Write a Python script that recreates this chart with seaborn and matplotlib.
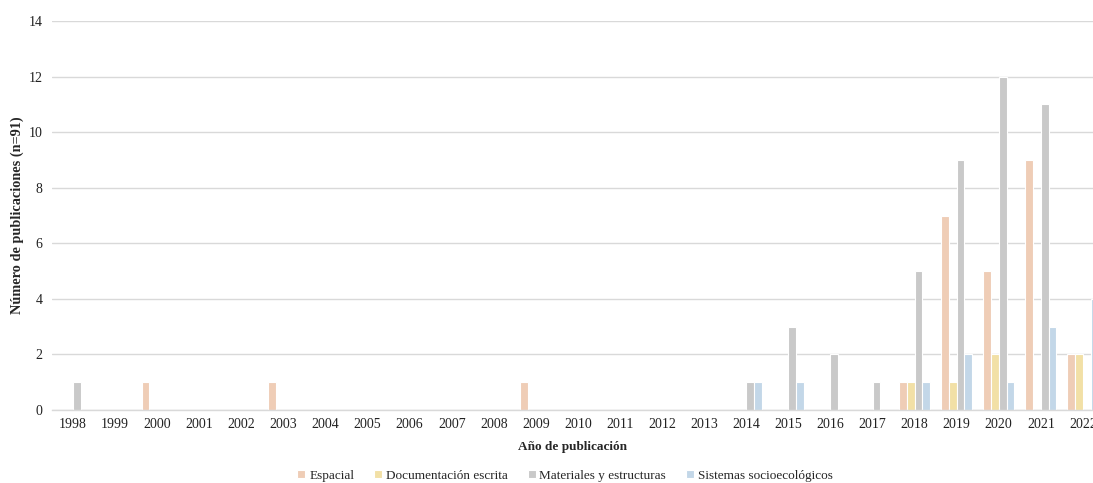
import matplotlib
matplotlib.use("Agg")
import matplotlib.pyplot as plt
import seaborn as sns
import pandas as pd

years = [str(y) for y in range(1998, 2023)]
categories = ["Espacial", "Documentación escrita", "Materiales y estructuras", "Sistemas socioecológicos"]

espacial = [0, 0, 1, 0, 0, 1, 0, 0, 0, 0, 0, 1, 0, 0, 0, 0, 0, 0, 0, 0, 1, 7, 5, 9, 2]
documentacion = [0, 0, 0, 0, 0, 0, 0, 0, 0, 0, 0, 0, 0, 0, 0, 0, 0, 0, 0, 0, 1, 1, 2, 0, 2]
materiales = [1, 0, 0, 0, 0, 0, 0, 0, 0, 0, 0, 0, 0, 0, 0, 0, 1, 3, 2, 1, 5, 9, 12, 11, 0]
sistemas = [0, 0, 0, 0, 0, 0, 0, 0, 0, 0, 0, 0, 0, 0, 0, 0, 1, 1, 0, 0, 1, 2, 1, 3, 4]

colors = ["#F8CBAD", "#FFE699", "#C9C9C9", "#BDD7EE"]

series = [espacial, documentacion, materiales, sistemas]
rows = []
for cat, vals in zip(categories, series):
    for y, v in zip(years, vals):
        rows.append({"Año": y, "Publicaciones": v, "Categoría": cat})
df = pd.DataFrame(rows)

sns.set_theme(style="white")
plt.rcParams["font.family"] = ["Liberation Serif", "DejaVu Serif"]

fig = plt.figure(figsize=(10.93, 4.83), dpi=100)
ax = fig.add_axes([0.0476, 0.151, 0.9524, 0.8055])

sns.barplot(data=df, x="Año", y="Publicaciones", hue="Categoría",
            hue_order=categories, palette=colors, width=0.74,
            edgecolor="white", linewidth=0.8, ax=ax, legend=True)

ax.set_ylim(0, 14)
ax.set_yticks(range(0, 15, 2))
ax.set_xlim(-0.5, 24.24)
ax.yaxis.grid(True, color="#D9D9D9", linewidth=1)
ax.set_axisbelow(True)
for s in ["top", "right", "left"]:
    ax.spines[s].set_visible(False)
ax.spines["bottom"].set_color("#D9D9D9")
ax.spines["bottom"].set_linewidth(1)
ax.tick_params(axis="both", length=0, labelsize=10, colors="#222222")
ax.tick_params(axis="y", pad=7)
ax.tick_params(axis="x", pad=6)

ax.set_xlabel("Año de publicación", fontsize=9.5, fontweight="bold", labelpad=7)
ax.set_ylabel("Número de publicaciones (n=91)", fontsize=10.3, fontweight="bold", labelpad=3)

handles, labels = ax.get_legend_handles_labels()
ax.get_legend().remove()
fig.legend(handles, labels, loc="center", bbox_to_anchor=(0.517, 0.015),
           ncol=4, frameon=False, fontsize=9.5, handlelength=0.6, handleheight=0.6,
           handletextpad=0.3, columnspacing=1.5, borderpad=0)

fig.savefig("out.png", dpi=100)
